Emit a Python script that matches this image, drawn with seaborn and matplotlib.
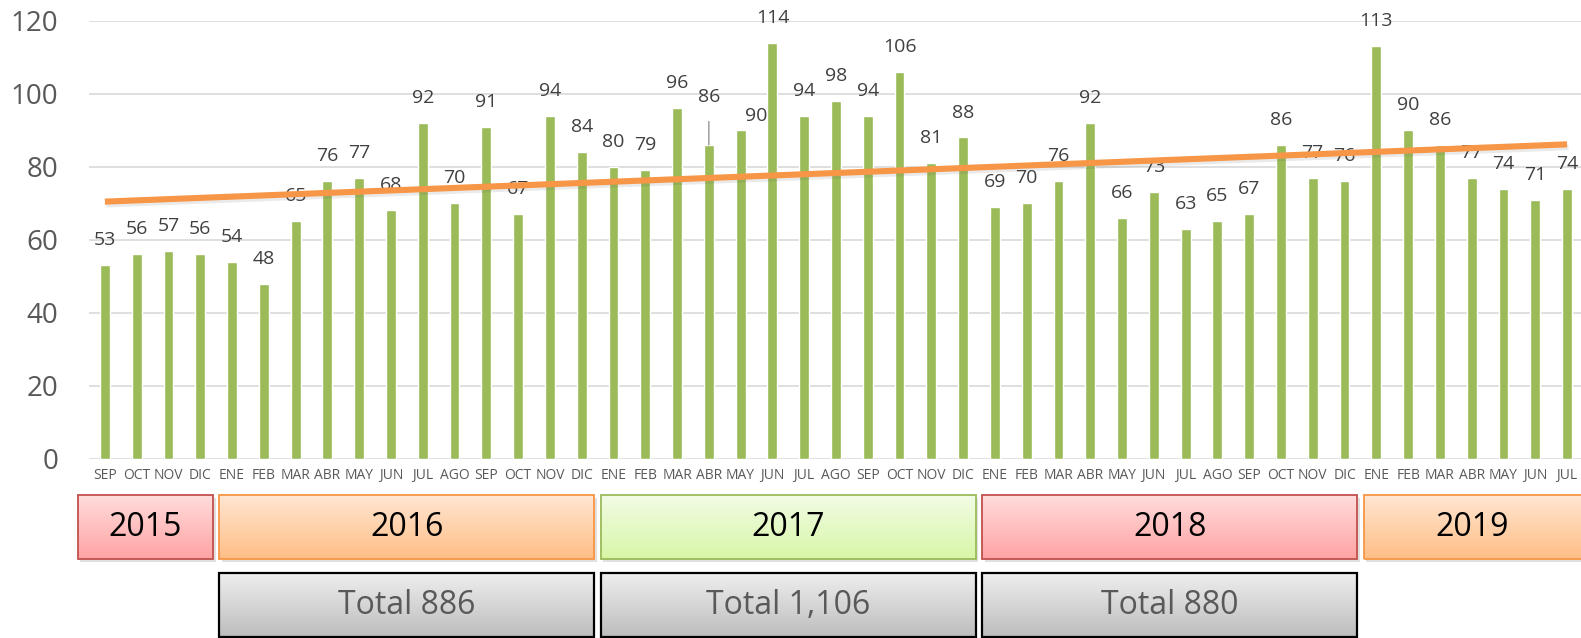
import numpy as np
import pandas as pd
import seaborn as sns
import matplotlib.pyplot as plt
import matplotlib.patheffects as pe
from matplotlib.patches import Rectangle
from matplotlib.colors import LinearSegmentedColormap

# data
months_2015 = ["SEP", "OCT", "NOV", "DIC"]
months_full = ["ENE", "FEB", "MAR", "ABR", "MAY", "JUN",
               "JUL", "AGO", "SEP", "OCT", "NOV", "DIC"]
months_2019 = months_full[:7]

values_2015 = [53, 56, 57, 56]
values_2016 = [54, 48, 65, 76, 77, 68, 92, 70, 91, 67, 94, 84]
values_2017 = [80, 79, 96, 86, 90, 114, 94, 98, 94, 106, 81, 88]
values_2018 = [69, 70, 76, 92, 66, 73, 63, 65, 67, 86, 77, 76]
values_2019 = [113, 90, 86, 77, 74, 71, 74]

years = ["2015", "2016", "2017", "2018", "2019"]
year_values = [values_2015, values_2016, values_2017, values_2018, values_2019]
show_total = [False, True, True, True, False]

month_labels = months_2015 + months_full * 3 + months_2019
values = values_2015 + values_2016 + values_2017 + values_2018 + values_2019

df = pd.DataFrame({"pos": np.arange(len(values)), "month": month_labels, "value": values})

sns.set_theme(style="white")
plt.rcParams["font.family"] = ["Open Sans", "DejaVu Sans"]

W, H = 1581, 638
fig = plt.figure(figsize=(W / 100, H / 100), dpi=100)
ax = fig.add_axes([89 / W, (H - 458.7) / H, 1492 / W, 438 / H])

sns.barplot(data=df, x="pos", y="value", color="#9BBB59", saturation=1,
            width=0.31, errorbar=None, ax=ax, zorder=2)

# linear trend line
coef = np.polyfit(df["pos"], df["value"], 1)
trend = np.polyval(coef, df["pos"])
ax.plot(df["pos"], trend, color="#F79646", lw=4.4, solid_capstyle="butt", zorder=5,
        path_effects=[pe.SimpleLineShadow(offset=(1, -2), alpha=0.12, shadow_color="#555555"),
                      pe.Normal()])

# data labels
label_offsets = {19: (0, 34.5), 20: (11, 10)}
for i, v in enumerate(values):
    dx, dy = label_offsets.get(i, (0, 18))
    if i == 19:
        ax.annotate(str(v), xy=(i, v), xytext=(dx, dy), textcoords="offset points",
                    ha="center", va="center", fontsize=14, color="#404040", zorder=4,
                    arrowprops=dict(arrowstyle="-", color="#A6A6A6", lw=1.2,
                                    shrinkA=9, shrinkB=0))
    else:
        ax.annotate(str(v), xy=(i, v), xytext=(dx, dy), textcoords="offset points",
                    ha="center", va="center", fontsize=14, color="#404040", zorder=4)

ax.set_xlim(-0.5, 46.44)
ax.set_ylim(0, 120)
ax.set_yticks(range(0, 121, 20))
ax.set_xticks(df["pos"])
ax.set_xticklabels(month_labels)
ax.tick_params(axis="x", length=0, pad=7, labelsize=10, labelcolor="#595959")
ax.tick_params(axis="y", length=0, pad=22, labelsize=20, labelcolor="#595959")
ax.yaxis.grid(True, color="#D9D9D9", lw=1.2)
ax.set_axisbelow(True)
ax.set_xlabel("")
ax.set_ylabel("")
for s in ax.spines.values():
    s.set_visible(False)

# year / total boxes below the chart
ax2 = fig.add_axes([0, 0, 1, 148 / H])
xl = (-0.5 - 89 / 31.785, 46.44)


def grad_box(x0, x1, y0, y1, top, bottom, edge, lw, shadow):
    if shadow:
        ax2.add_patch(Rectangle((x0 + 0.08, y0 - 3), x1 - x0, y1 - y0, facecolor="#000000",
                                alpha=0.12, lw=0, zorder=1))
    cmap = LinearSegmentedColormap.from_list("g", [bottom, top])
    grad = np.linspace(0, 1, 100).reshape(-1, 1)
    im = ax2.imshow(grad, cmap=cmap, extent=(x0, x1, y0, y1), origin="lower",
                    aspect="auto", zorder=2)
    rect = Rectangle((x0, y0), x1 - x0, y1 - y0, facecolor="none", edgecolor=edge,
                     lw=lw, zorder=3)
    ax2.add_patch(rect)
    im.set_clip_path(rect)


year_styles = [("#FFDCDC", "#FFA3A3", "#C0504D"),
               ("#FFE6D2", "#FFBE86", "#F79646"),
               ("#F2FCE6", "#D8F6A6", "#9BBB59"),
               ("#FFDCDC", "#FFA3A3", "#C0504D"),
               ("#FFE6D2", "#FFBE86", "#F79646")]

start = 0
for k, (yr, vals) in enumerate(zip(years, year_values)):
    first, last = start, start + len(vals) - 1
    x0 = first - 0.4 if k > 0 else -0.86
    x1 = last + 0.4 if k < len(years) - 1 else 46.8
    top, bottom, edge = year_styles[k]
    grad_box(x0, x1, 79, 143, top, bottom, edge, 1.3, True)
    xc = (x0 + min(x1, xl[1])) / 2
    ax2.text(xc, 111, yr, ha="center", va="center", fontsize=23, color="black", zorder=4)
    if show_total[k]:
        grad_box(x0, x1, 1, 65, "#EEEEEE", "#BDBDBD", "#000000", 1.6, False)
        ax2.text(xc, 33, f"Total {sum(vals):,}", ha="center", va="center",
                 fontsize=23, color="#595959", zorder=4)
    start = last + 1

ax2.set_xlim(*xl)
ax2.set_ylim(0, 148)
ax2.axis("off")

fig.savefig("out.png", dpi=100)
